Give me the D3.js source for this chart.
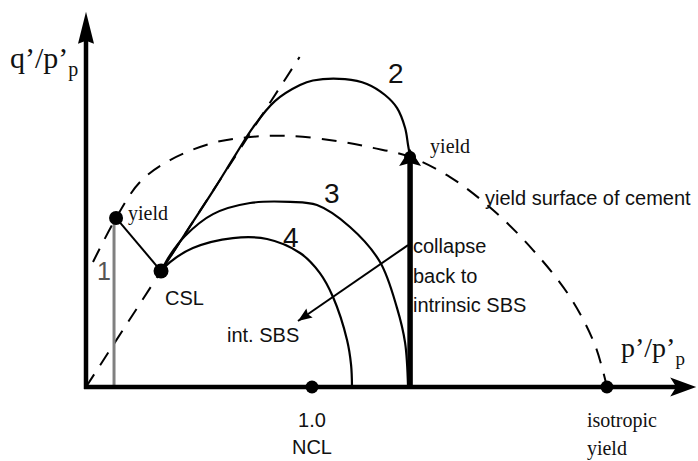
<!DOCTYPE html>
<html>
<head>
<meta charset="utf-8">
<script src="https://cdn.jsdelivr.net/npm/d3@7"></script>
<style>
  html, body { margin: 0; padding: 0; background: #fff; }
  svg { display: block; }
</style>
</head>
<body>
<svg id="chart" width="698" height="461"></svg>
<script>
// Stress paths in q'/p'_p – p'/p'_p space (NCL at p'/p'_p = 1.0)
const axisExtent = [2.70, 1.66];            // [p' extent, q' extent]

const yieldSurface = [
  [0.031, 0.553], [0.133, 0.748], [0.239, 0.907], [0.372, 1.004], [0.562, 1.080],
  [0.726, 1.106], [0.903, 1.111], [1.111, 1.088], [1.270, 1.058], [1.434, 1.018],
  [1.611, 0.929], [1.801, 0.783], [1.978, 0.606], [2.142, 0.398], [2.252, 0.186],
  [2.305, 0.000]
];
const cslLine = [[0, 0], [0.945, 1.46]];

const path1 = [[0.124, 0], [0.124, 0.748]];
const path1ToCsl = [[0.133, 0.748], [0.332, 0.513]];
const path2 = [
  [0.332, 0.513], [0.450, 0.695], [0.570, 0.880], [0.660, 1.025], [0.740, 1.150],
  [0.836, 1.265], [0.947, 1.336], [1.004, 1.356], [1.146, 1.362], [1.243, 1.341],
  [1.323, 1.292], [1.376, 1.235], [1.412, 1.146], [1.425, 1.071], [1.434, 1.018]
];
const path3 = [
  [0.332, 0.513], [0.372, 0.584], [0.438, 0.668], [0.562, 0.765], [0.726, 0.814],
  [0.903, 0.819], [1.022, 0.805], [1.168, 0.708], [1.301, 0.553], [1.376, 0.350],
  [1.412, 0.195], [1.425, 0.000]
];
const path4 = [
  [0.332, 0.513], [0.372, 0.553], [0.473, 0.615], [0.650, 0.659], [0.801, 0.655],
  [0.947, 0.593], [1.035, 0.504], [1.093, 0.398], [1.155, 0.208], [1.173, 0.097],
  [1.177, 0.000]
];
const collapsePath = [[1.434, 0], [1.434, 1.018]];
const sbsArrow = [[1.425, 0.628], [0.938, 0.292]];

const yieldPoint1 = [0.133, 0.748];
const cslPoint = [0.332, 0.513];
const yieldPoint2 = [1.434, 1.018];
const nclPoint = [1.0, 0];
const isoPoint = [2.305, 0];

const pathLabels = ["1", "2", "3", "4"];
const nclLabels = ["1.0", "NCL"];
const isoLabels = ["isotropic", "yield"];
const collapseLabels = ["collapse", "back to", "intrinsic SBS"];

const SERIF = "'Liberation Serif', 'Times New Roman', serif";
const SANS = "'Liberation Sans', Arial, sans-serif";

const svg = d3.select("#chart");
const x = d3.scaleLinear().domain([0, 1]).range([86, 312]);
const y = d3.scaleLinear().domain([0, 1]).range([387, 161]);

const line = d3.line().x(d => x(d[0])).y(d => y(d[1]));
const curve = d3.line().x(d => x(d[0])).y(d => y(d[1])).curve(d3.curveCatmullRom.alpha(0.5));

// arrowhead polygon with a small notch at its base
function arrowHead(tip, from, len, half, notch) {
  const dx = tip[0] - from[0], dy = tip[1] - from[1];
  const n = Math.hypot(dx, dy), ux = dx / n, uy = dy / n;
  const px = -uy, py = ux;
  const bx = tip[0] - ux * len, by = tip[1] - uy * len;
  return `M${tip[0]},${tip[1]}L${bx + px * half},${by + py * half}` +
         `L${tip[0] - ux * (len - notch)},${tip[1] - uy * (len - notch)}` +
         `L${bx - px * half},${by - py * half}Z`;
}

// dashed lines: yield surface of cement and CSL
svg.append("path").attr("d", curve(yieldSurface))
  .attr("fill", "none").attr("stroke", "#000").attr("stroke-width", 2)
  .attr("stroke-dasharray", "15,11");
svg.append("path").attr("d", line(cslLine))
  .attr("fill", "none").attr("stroke", "#000").attr("stroke-width", 2)
  .attr("stroke-dasharray", "15,11");

// path 1 (grey) to first yield, then to CSL
svg.append("path").attr("d", line(path1))
  .attr("fill", "none").attr("stroke", "#808080").attr("stroke-width", 3);
svg.append("path").attr("d", line(path1ToCsl))
  .attr("fill", "none").attr("stroke", "#000").attr("stroke-width", 2);

// paths 2-4
[path2, path3, path4].forEach(p => {
  svg.append("path").attr("d", curve(p))
    .attr("fill", "none").attr("stroke", "#000").attr("stroke-width", 2.2);
});

// thick collapse path to second yield
const cTip = [x(collapsePath[1][0]), y(collapsePath[1][1]) - 8];
svg.append("path").attr("d", line(collapsePath))
  .attr("fill", "none").attr("stroke", "#000").attr("stroke-width", 5.5);
svg.append("path")
  .attr("d", arrowHead(cTip, [x(collapsePath[0][0]), y(collapsePath[0][1])], 17, 11, 3))
  .attr("fill", "#000");

// arrow back to intrinsic SBS
const aFrom = [x(sbsArrow[0][0]), y(sbsArrow[0][1])];
const aTo = [x(sbsArrow[1][0]), y(sbsArrow[1][1])];
svg.append("path").attr("d", line(sbsArrow))
  .attr("fill", "none").attr("stroke", "#000").attr("stroke-width", 2);
svg.append("path").attr("d", arrowHead(aTo, aFrom, 14, 5.5, 2)).attr("fill", "#000");

// axes
const x0 = x(0), y0 = y(0);
const yTop = y(axisExtent[1]), xEnd = x(axisExtent[0]);
svg.append("line").attr("x1", x0).attr("y1", y0 + 2).attr("x2", x0).attr("y2", yTop + 20)
  .attr("stroke", "#000").attr("stroke-width", 4.5);
svg.append("line").attr("x1", x0 - 2).attr("y1", y0).attr("x2", xEnd - 16).attr("y2", y0)
  .attr("stroke", "#000").attr("stroke-width", 4.5);
svg.append("path").attr("d", arrowHead([x0, yTop], [x0, y0], 32, 8, 3)).attr("fill", "#000");
svg.append("path").attr("d", arrowHead([xEnd, y0], [x0, y0], 26, 9.5, 6)).attr("fill", "#000");

// points
[[yieldPoint1, 7], [cslPoint, 7.5], [yieldPoint2, 6], [nclPoint, 6.5], [isoPoint, 6.5]]
  .forEach(([p, r]) => {
    svg.append("circle").attr("cx", x(p[0])).attr("cy", y(p[1])).attr("r", r).attr("fill", "#000");
  });

// text
function text(tx, ty, str, font, size, fill) {
  return svg.append("text").attr("x", tx).attr("y", ty)
    .attr("font-family", font).attr("font-size", size).attr("fill", fill || "#111")
    .text(str);
}

// axis titles
const qt = svg.append("text").attr("x", 10).attr("y", 68)
  .attr("font-family", SERIF).attr("font-size", 30).attr("fill", "#111");
qt.append("tspan").text("q’/p’");
qt.append("tspan").attr("font-size", 20).attr("dy", 8).text("p");
const pt = svg.append("text").attr("x", 621).attr("y", 357)
  .attr("font-family", SERIF).attr("font-size", 28).attr("fill", "#111");
pt.append("tspan").text("p’/p’");
pt.append("tspan").attr("font-size", 19).attr("dy", 8).text("p");

// yield labels
text(x(yieldPoint1[0]) + 12, y(yieldPoint1[1]) + 2, "yield", SERIF, 20);
text(x(yieldPoint2[0]) + 20, y(yieldPoint2[1]) - 4, "yield", SERIF, 20);
text(485, 205, "yield surface of cement", SANS, 20);
text(x(cslPoint[0]) + 4, y(cslPoint[1]) + 34, "CSL", SANS, 20);
text(227, 342, "int. SBS", SANS, 20);
collapseLabels.forEach((s, i) => text(413, 253 + i * 29.5, s, SANS, 20));

// path numbers
const numPos = [[97, 280], [388, 83], [324, 203], [283, 247]];
pathLabels.forEach((s, i) =>
  text(numPos[i][0], numPos[i][1], s, SANS, i === 0 ? 25 : 28, i === 0 ? "#555" : "#111"));

// labels below the p' axis
nclLabels.forEach((s, i) =>
  text(x(nclPoint[0]), 427 + i * 27, s, SANS, 20).attr("text-anchor", "middle"));
isoLabels.forEach((s, i) =>
  text(x(isoPoint[0]) - 20, 427 + i * 28, s, SERIF, 20));
</script>
</body>
</html>
